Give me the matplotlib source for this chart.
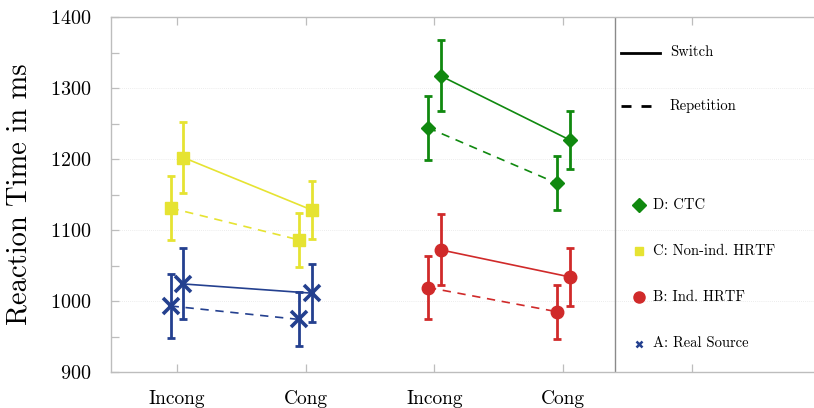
import matplotlib
matplotlib.use("Agg")
import matplotlib.pyplot as plt
from matplotlib.lines import Line2D

plt.rcParams["font.family"] = "serif"
plt.rcParams["font.serif"] = ["cmr10", "DejaVu Serif"]
plt.rcParams["axes.formatter.use_mathtext"] = True
plt.rcParams["mathtext.fontset"] = "cm"

# ---- data -------------------------------------------------------------
tick_labels = ["Incong", "Cong", "Incong", "Cong", ""]

real_switch = [1024, 1011]
real_rep = [993, 974]
nonind_switch = [1202, 1128]
nonind_rep = [1131, 1086]
ctc_switch = [1317, 1227]
ctc_rep = [1244, 1166]
ind_switch = [1072, 1034]
ind_rep = [1019, 985]

err_switch = [50, 41]
err_rep = [45, 38]

legend_names = ["D: CTC", "C: Non-ind. HRTF", "B: Ind. HRTF", "A: Real Source"]

# ---- styling ----------------------------------------------------------
c_green = "#10890f"
c_yellow = "#e6e332"
c_red = "#d02a2a"
c_blue = "#24408f"
spine_col = "#bdbdbd"

fig = plt.figure(figsize=(8.14, 4.08), dpi=100)
ax = fig.add_axes([111 / 814, 1 - 372 / 408, 1 - 111 / 814, (372 - 17) / 408])

ax.set_xlim(0.487, 5.95)
ax.set_ylim(900, 1400)

# groups: (positions, switch, rep, color, marker, marker kwargs)
series = [
    ((1, 2), nonind_switch, nonind_rep, c_yellow, "s", dict(ms=9)),
    ((1, 2), real_switch, real_rep, c_blue, "x", dict(ms=11, mew=2.6)),
    ((3, 4), ctc_switch, ctc_rep, c_green, "D", dict(ms=7.5)),
    ((3, 4), ind_switch, ind_rep, c_red, "o", dict(ms=9)),
]

off = 0.05
for pos, sw, rp, col, mk, mkw in series:
    xs_sw = [p + off for p in pos]
    xs_rp = [p - off for p in pos]
    ax.plot(xs_sw, sw, color=col, lw=1.2, zorder=2)
    ax.plot(xs_rp, rp, color=col, lw=1.2, ls=(0, (5, 4)), zorder=2)
    for xs, ys, er in ((xs_rp, rp, err_rep), (xs_sw, sw, err_switch)):
        ax.errorbar(xs, ys, yerr=er, fmt="none", ecolor=col, elinewidth=2.0,
                    capsize=3.2, capthick=2.0, zorder=3)
        ax.plot(xs, ys, ls="none", marker=mk, color=col, mec=col, zorder=4, **mkw)

# grid
for g in (1000, 1100, 1200, 1300):
    ax.axhline(g, color="#e6e6e6", lw=0.6, ls=(0, (1, 1.5)), zorder=0)

# separator for the legend panel
ax.axvline(4.40, color="#8a8a8a", lw=1.0, zorder=1)

# axes appearance
for s in ("left", "bottom", "top"):
    ax.spines[s].set_color(spine_col)
    ax.spines[s].set_linewidth(1.0)
ax.spines["right"].set_visible(False)

ax.set_xticks([1, 2, 3, 4, 5])
ax.set_xticklabels(tick_labels)
ax.set_yticks([900, 1000, 1100, 1200, 1300, 1400])
ax.set_yticks([950, 1050, 1150, 1250, 1350], minor=True)
ax.tick_params(axis="x", direction="in", length=6, width=0.9, color=spine_col,
               top=True, bottom=True, labelsize=14, pad=13)
ax.tick_params(axis="y", which="both", direction="in", length=6, width=0.9,
               color=spine_col, left=True, right=False, labelsize=14.5, pad=14)

ax.set_ylabel("Reaction Time in ms", fontsize=20.5, labelpad=13)

# ---- legend panel -----------------------------------------------------
ax.add_line(Line2D([4.45, 4.753], [1350, 1350], color="black", lw=2.0))
ax.text(4.83, 1350, "Switch", fontsize=10.5, va="center", ha="left")
ax.add_line(Line2D([4.45, 4.685], [1275, 1275], color="black", lw=2.0,
                   ls=(0, (3.6, 3.6))))
ax.text(4.83, 1275, "Repetition", fontsize=10.5, va="center", ha="left")

leg_y = [1135, 1070, 1005, 940]
leg_style = [
    (c_green, "D", dict(ms=7)),
    (c_yellow, "s", dict(ms=5.5)),
    (c_red, "o", dict(ms=8)),
    (c_blue, "x", dict(ms=5, mew=1.8)),
]
for y, name, (col, mk, mkw) in zip(leg_y, legend_names, leg_style):
    ax.plot([4.59], [y], ls="none", marker=mk, color=col, mec=col, **mkw)
    ax.text(4.70, y, name, fontsize=10.5, va="center", ha="left")

fig.savefig("out.png", dpi=100)
